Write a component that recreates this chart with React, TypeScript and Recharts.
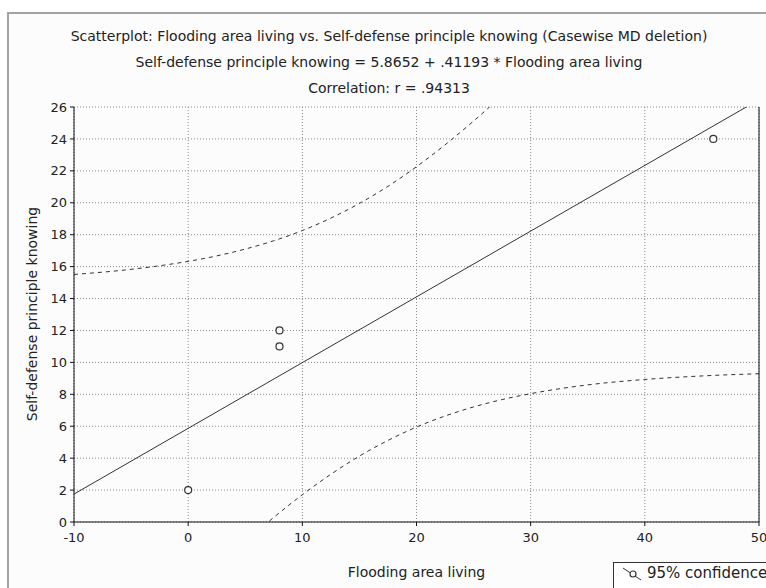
import { ComposedChart, Line, Scatter, XAxis, YAxis, CartesianGrid } from "recharts"

// observed cases
const points = [
  { x: 0, y: 2 },
  { x: 8, y: 11 },
  { x: 8, y: 12 },
  { x: 46, y: 24 },
]

// regression line end points
const fitLine = [
  { x: -10, y: 1.75 },
  { x: 50, y: 26.46 },
]

// 95% confidence band
const upperBand = [
  { x: -10, y: 15.51 },
  { x: -5, y: 15.83 },
  { x: 0, y: 16.33 },
  { x: 2.5, y: 16.67 },
  { x: 5, y: 17.1 },
  { x: 7.5, y: 17.62 },
  { x: 10, y: 18.26 },
  { x: 12.5, y: 19.04 },
  { x: 15, y: 19.96 },
  { x: 17.5, y: 21.03 },
  { x: 20, y: 22.26 },
  { x: 22.5, y: 23.63 },
  { x: 25, y: 25.12 },
  { x: 27.5, y: 26.72 },
]

const lowerBand = [
  { x: 5, y: -1.25 },
  { x: 7.5, y: 0.29 },
  { x: 10, y: 1.71 },
  { x: 12.5, y: 2.99 },
  { x: 15, y: 4.13 },
  { x: 17.5, y: 5.11 },
  { x: 20, y: 5.95 },
  { x: 22.5, y: 6.64 },
  { x: 25, y: 7.21 },
  { x: 27.5, y: 7.67 },
  { x: 30, y: 8.04 },
  { x: 35, y: 8.59 },
  { x: 40, y: 8.93 },
  { x: 45, y: 9.15 },
  { x: 50, y: 9.29 },
]

const xTicks = [-10, 0, 10, 20, 30, 40, 50]
const yTicks = [0, 2, 4, 6, 8, 10, 12, 14, 16, 18, 20, 22, 24, 26]

const titles = [
  "Scatterplot: Flooding area living vs. Self-defense principle knowing (Casewise MD deletion)",
  "Self-defense principle knowing = 5.8652 + .41193 * Flooding area living",
  "Correlation: r = .94313",
]

const font = '"DejaVu Sans", Verdana, sans-serif'
const ink = "#222"

export default function App() {
  return (
    <div
      style={{
        position: "absolute",
        left: 0,
        top: 0,
        width: 766,
        height: 588,
        overflow: "hidden",
        background: "#fff",
        fontFamily: font,
        color: ink,
      }}
    >
      <div
        style={{
          position: "absolute",
          left: 7,
          top: 12,
          width: 800,
          height: 600,
          border: "2px solid #a3a3a3",
          background: "#fcfcfc",
        }}
      />
      {titles.map((t, i) => (
        <div
          key={i}
          style={{
            position: "absolute",
            left: 0,
            width: 778,
            top: 27 + i * 26,
            textAlign: "center",
            fontSize: 14,
            lineHeight: "18px",
            whiteSpace: "nowrap",
          }}
        >
          {t}
        </div>
      ))}
      <div style={{ position: "absolute", top: 0, left: 0 }}>
        <ComposedChart
          width={766}
          height={588}
          margin={{ top: 107, right: 0, left: 0, bottom: 0 }}
          style={{ fontFamily: font }}
        >
          <CartesianGrid
            stroke="#8a8a8a"
            strokeDasharray="1 2"
            horizontalValues={yTicks}
            verticalValues={xTicks}
          />
          <XAxis
            type="number"
            dataKey="x"
            domain={[-10, 50]}
            ticks={xTicks}
            allowDataOverflow
            height={66}
            stroke="#111"
            tickSize={4}
            tickMargin={7}
            tick={{ fill: ink, fontSize: 13 }}
          />
          <XAxis
            xAxisId="top"
            orientation="top"
            type="number"
            domain={[-10, 50]}
            height={0}
            stroke="#111"
            tick={false}
            tickLine={false}
          />
          <YAxis
            type="number"
            domain={[0, 26]}
            ticks={yTicks}
            allowDataOverflow
            width={74}
            stroke="#111"
            tickSize={4}
            tickMargin={3}
            tick={{ fill: ink, fontSize: 13 }}
          />
          <YAxis
            yAxisId="right"
            orientation="right"
            type="number"
            domain={[0, 26]}
            ticks={yTicks}
            width={7}
            stroke="#111"
            tickSize={4}
            tick={false}
          />
          <Line
            data={upperBand}
            dataKey="y"
            type="monotone"
            stroke="#333"
            strokeWidth={1}
            strokeDasharray="4 4"
            dot={false}
            activeDot={false}
            isAnimationActive={false}
          />
          <Line
            data={lowerBand}
            dataKey="y"
            type="monotone"
            stroke="#333"
            strokeWidth={1}
            strokeDasharray="4 4"
            dot={false}
            activeDot={false}
            isAnimationActive={false}
          />
          <Line
            data={fitLine}
            dataKey="y"
            type="linear"
            stroke="#333"
            strokeWidth={1}
            dot={false}
            activeDot={false}
            isAnimationActive={false}
          />
          <Scatter
            data={points}
            dataKey="y"
            fill="none"
            isAnimationActive={false}
            shape={(p: any) => (
              <circle cx={p.cx} cy={p.cy} r={3.5} fill="#fff" stroke="#333" strokeWidth={1.2} />
            )}
          />
        </ComposedChart>
      </div>
      <div
        style={{
          position: "absolute",
          left: 0,
          width: 833,
          top: 563,
          textAlign: "center",
          fontSize: 14,
          lineHeight: "18px",
        }}
      >
        Flooding area living
      </div>
      <div
        style={{
          position: "absolute",
          left: 32,
          top: 314,
          transform: "translate(-50%, -50%) rotate(-90deg)",
          fontSize: 14,
          lineHeight: "18px",
          whiteSpace: "nowrap",
        }}
      >
        Self-defense principle knowing
      </div>
      <div
        style={{
          position: "absolute",
          left: 613,
          top: 562,
          width: 200,
          height: 40,
          border: "1px solid #333",
          background: "#fff",
        }}
      >
        <svg width={24} height={20} style={{ position: "absolute", left: 7, top: 2 }}>
          <line x1={2} y1={3} x2={20} y2={15} stroke="#333" strokeWidth={1} />
          <circle cx={12} cy={9} r={3} fill="#fff" stroke="#333" strokeWidth={1.2} />
        </svg>
        <span style={{ position: "absolute", left: 33, top: 1, fontSize: 15, lineHeight: "18px", whiteSpace: "nowrap" }}>
          95% confidence
        </span>
      </div>
    </div>
  )
}
